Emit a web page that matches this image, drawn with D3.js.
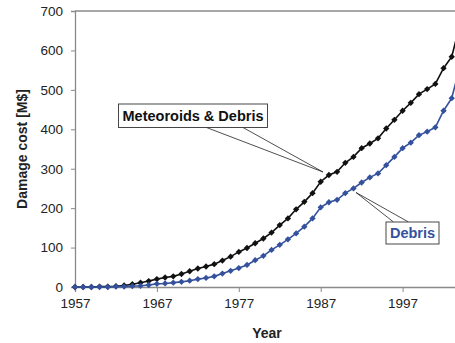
<!DOCTYPE html>
<html>
<head>
<meta charset="utf-8">
<script src="https://cdn.jsdelivr.net/npm/d3@7"></script>
<style>
  html, body { margin: 0; padding: 0; background: #fff; }
  svg { display: block; font-family: "Liberation Sans", Arial, sans-serif; }
</style>
</head>
<body>
<svg id="chart" width="455" height="343"></svg>
<script>
// Yearly cumulative damage cost, million $
const years = d3.range(1957, 2005);
const meteoroidsDebris = [
  0, 0, 0, 1, 1, 2, 4, 7, 11, 15,
  20, 24, 27, 33, 40, 47, 52, 58, 67, 77,
  89, 99, 111, 123, 138, 157, 174, 197, 216, 238,
  267, 284, 292, 315, 330, 352, 364, 377, 402, 424,
  447, 467, 489, 502, 515, 555, 584, 666
];
const debris = [
  0, 0, 0, 0, 0, 1, 1, 2, 3, 5,
  8, 9, 11, 13, 16, 20, 23, 27, 34, 41,
  48, 56, 68, 79, 94, 107, 121, 136, 153, 174,
  202, 215, 221, 238, 250, 265, 278, 288, 309, 330,
  352, 366, 385, 394, 405, 447, 479, 560
];
const xTicks = [1957, 1967, 1977, 1987, 1997];
const yTicks = [0, 100, 200, 300, 400, 500, 600, 700];

const svg = d3.select("#chart");
const x = d3.scaleLinear().domain([1957, 2007]).range([75, 484.5]);
const y = d3.scaleLinear().domain([0, 700]).range([287, 11]);

const axisColor = "#8a8a8a";

// plot area top border
svg.append("line")
  .attr("x1", 75).attr("x2", 455).attr("y1", y(700)).attr("y2", y(700))
  .attr("stroke", axisColor).attr("stroke-width", 1.3);

// y axis
const yAxis = svg.append("g")
  .attr("transform", "translate(75,0)")
  .call(d3.axisLeft(y).tickValues(yTicks).tickSize(4).tickPadding(8));
yAxis.select(".domain").attr("stroke", axisColor).attr("stroke-width", 1.3);
yAxis.selectAll(".tick line").attr("stroke", axisColor);
yAxis.selectAll(".tick text").attr("font-size", 13.5).attr("fill", "#222")
  .attr("font-family", "Liberation Sans, Arial, sans-serif");

// x axis
const xAxis = svg.append("g")
  .attr("transform", "translate(0,287)")
  .call(d3.axisBottom(x).tickValues(xTicks).tickFormat(d3.format("d")).tickSize(5).tickPadding(6));
xAxis.select(".domain").attr("stroke", axisColor).attr("stroke-width", 1.3);
xAxis.selectAll(".tick line").attr("stroke", axisColor);
xAxis.selectAll(".tick text").attr("font-size", 13.5).attr("fill", "#222")
  .attr("font-family", "Liberation Sans, Arial, sans-serif");

// axis titles
svg.append("text")
  .attr("x", 267).attr("y", 338)
  .attr("text-anchor", "middle")
  .attr("font-size", 14).attr("font-weight", "bold").attr("fill", "#222")
  .text("Year");
svg.append("text")
  .attr("transform", "translate(27,149) rotate(-90)")
  .attr("text-anchor", "middle")
  .attr("font-size", 14).attr("font-weight", "bold").attr("fill", "#222")
  .text("Damage cost [M$]");

// series
const series = [
  { name: "Meteoroids & Debris", values: meteoroidsDebris, color: "#111111" },
  { name: "Debris", values: debris, color: "#34519d" }
];
const line = d3.line().x(d => x(d.year)).y(d => y(d.value));
const marker = d3.symbol().type(d3.symbolSquare).size(20);

series.forEach(s => {
  const pts = years.map((yr, i) => ({ year: yr, value: s.values[i] }));
  const g = svg.append("g");
  g.append("path")
    .datum(pts)
    .attr("d", line)
    .attr("fill", "none")
    .attr("stroke", s.color)
    .attr("stroke-width", 1.6);
  g.selectAll("path.mk")
    .data(pts)
    .join("path")
    .attr("class", "mk")
    .attr("d", marker)
    .attr("transform", d => `translate(${x(d.year)},${y(d.value)}) rotate(45)`)
    .attr("fill", s.color);
});

// callouts
function callout(box, tip, anchors, label, color) {
  const g = svg.append("g");
  anchors.forEach(a => {
    g.append("line")
      .attr("x1", a[0]).attr("y1", a[1])
      .attr("x2", tip[0]).attr("y2", tip[1])
      .attr("stroke", "#222").attr("stroke-width", 0.8);
  });
  g.append("rect")
    .attr("x", box.x).attr("y", box.y).attr("width", box.w).attr("height", box.h)
    .attr("fill", "#fff").attr("stroke", "#333").attr("stroke-width", 0.9);
  g.append("text")
    .attr("x", box.x + box.w / 2).attr("y", box.y + box.h / 2 + 5)
    .attr("text-anchor", "middle")
    .attr("font-size", 14.5).attr("font-weight", "bold").attr("fill", color)
    .text(label);
}

callout({ x: 118.5, y: 104, w: 149, h: 23.5 }, [323, 172],
  [[206.5, 127.5], [243, 127.5]], "Meteoroids & Debris", "#111");
callout({ x: 386, y: 222, w: 53, h: 22 }, [356, 192.5],
  [[393.5, 222], [408.5, 222]], "Debris", "#34519d");
</script>
</body>
</html>
